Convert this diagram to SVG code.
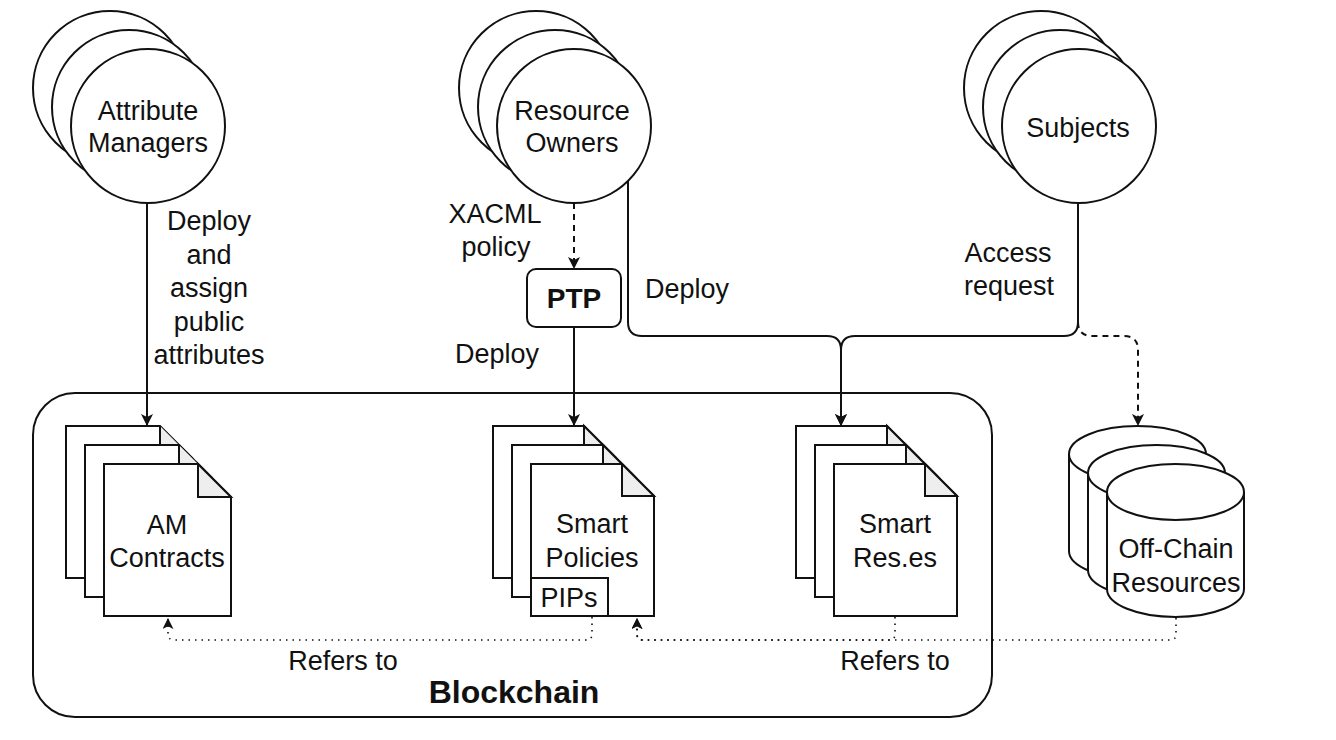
<svg xmlns="http://www.w3.org/2000/svg" width="1336" height="740" viewBox="0 0 1336 740">
<style>
  text { font-family: "Liberation Sans", Arial, sans-serif; font-size: 27px; fill: #111; text-anchor: middle; }
  .b { font-weight: bold; }
  .shape { fill: #fff; stroke: #111; stroke-width: 2; }
  .fold { fill: #eeeeee; stroke: #111; stroke-width: 2; stroke-linejoin: miter; }
  .edge { fill: none; stroke: #111; stroke-width: 2; }
  .dash { stroke-dasharray: 6 5; }
  .dot { stroke-width: 1.6; stroke-dasharray: 1.5 5; }
</style>
<defs>
  <marker id="arr" viewBox="0 0 12 12" refX="11" refY="6" markerWidth="12" markerHeight="12" markerUnits="userSpaceOnUse" orient="auto">
    <path d="M0,0 L12,6 L0,12 L3,6 Z" fill="#111"/>
  </marker>
  <marker id="arrs" viewBox="0 0 12 12" refX="11" refY="6" markerWidth="11" markerHeight="11" markerUnits="userSpaceOnUse" orient="auto">
    <path d="M0,0 L12,6 L0,12 L3,6 Z" fill="#111"/>
  </marker>
</defs>

<g id="blockchain">
  <rect class="shape" x="33" y="393" width="959" height="324" rx="42" ry="42"/>
  <text x="514" y="703" class="b" style="font-size:32px">Blockchain</text>
</g>

<g id="attribute-managers">
  <circle class="shape" cx="110" cy="88" r="77"/>
  <circle class="shape" cx="129" cy="107" r="77"/>
  <circle class="shape" cx="148" cy="126" r="77"/>
  <text x="148" y="120">Attribute</text>
  <text x="148" y="152">Managers</text>
</g>

<g id="resource-owners">
  <circle class="shape" cx="536" cy="88" r="77"/>
  <circle class="shape" cx="555" cy="107" r="77"/>
  <circle class="shape" cx="574" cy="126" r="77"/>
  <text x="572" y="120">Resource</text>
  <text x="572" y="152">Owners</text>
</g>

<g id="subjects">
  <circle class="shape" cx="1041" cy="88" r="77"/>
  <circle class="shape" cx="1060" cy="107" r="77"/>
  <circle class="shape" cx="1079" cy="126" r="77"/>
  <text x="1078" y="137">Subjects</text>
</g>

<g id="ptp">
  <rect class="shape" x="527" y="269" width="94" height="58" rx="9" ry="9"/>
  <text x="574" y="308" class="b" style="font-size:28px">PTP</text>
</g>

<g id="am-contracts">
  <path class="shape" d="M66,426 H160 L193,459 V578 H66 Z"/>
  <path class="fold" d="M160,426 V459 H193"/>
  <path class="shape" d="M85,445 H179 L212,478 V597 H85 Z"/>
  <path class="fold" d="M179,445 V478 H212"/>
  <path class="shape" d="M104,464 H198 L231,497 V616 H104 Z"/>
  <path class="fold" d="M198,464 V497 H231 Z"/>
  <text x="167" y="534">AM</text>
  <text x="167" y="567">Contracts</text>
</g>

<g id="smart-policies">
  <path class="shape" d="M493,426 H584 L616,458 V578 H493 Z"/>
  <path class="fold" d="M584,426 V458 H616 Z"/>
  <path class="shape" d="M512,445 H603 L635,477 V597 H512 Z"/>
  <path class="fold" d="M603,445 V477 H635 Z"/>
  <path class="shape" d="M531,464 H622 L654,496 V616 H531 Z"/>
  <path class="fold" d="M622,464 V496 H654 Z"/>
  <text x="592" y="533">Smart</text>
  <text x="592" y="567">Policies</text>
  <rect class="shape" x="531" y="578" width="77" height="38"/>
  <text x="569" y="607">PIPs</text>
</g>

<g id="smart-resources">
  <path class="shape" d="M796,426 H887 L919,458 V578 H796 Z"/>
  <path class="fold" d="M887,426 V458 H919 Z"/>
  <path class="shape" d="M815,445 H906 L938,477 V597 H815 Z"/>
  <path class="fold" d="M906,445 V477 H938 Z"/>
  <path class="shape" d="M834,464 H925 L957,496 V616 H834 Z"/>
  <path class="fold" d="M925,464 V496 H957 Z"/>
  <text x="895" y="533">Smart</text>
  <text x="895" y="567">Res.es</text>
</g>

<g id="off-chain-resources">
  <path class="shape" d="M1069,454 A68.5,28 0 0 1 1206,454 V551 A68.5,28 0 0 1 1069,551 Z"/>
  <path class="edge" d="M1069,454 A68.5,28 0 0 0 1206,454"/>
  <path class="shape" d="M1088,473 A68.5,28 0 0 1 1225,473 V570 A68.5,28 0 0 1 1088,570 Z"/>
  <path class="edge" d="M1088,473 A68.5,28 0 0 0 1225,473"/>
  <path class="shape" d="M1107,492 A68.5,28 0 0 1 1244,492 V589 A68.5,28 0 0 1 1107,589 Z"/>
  <path class="edge" d="M1107,492 A68.5,28 0 0 0 1244,492"/>
  <text x="1176" y="558">Off-Chain</text>
  <text x="1176" y="592">Resources</text>
</g>

<g id="connectors">
  <path class="edge" d="M147,203 V425" marker-end="url(#arr)"/>
  <path class="edge dash" d="M574,203 V268" marker-end="url(#arr)"/>
  <path class="edge" d="M574,327 V425" marker-end="url(#arr)"/>
  <path class="edge" d="M628,181 V322 Q628,336 642,336 H827 Q841,336 841,350 V425" marker-end="url(#arr)"/>
  <path class="edge dash" d="M1078,322 Q1078,336 1092,336 H1124 Q1138,336 1138,350 V425" marker-end="url(#arr)"/>
  <path class="edge" d="M1078,203 V322 Q1078,336 1064,336 H855 Q841,336 841,350 V425" marker-end="url(#arr)"/>
  <path class="edge dot" d="M592,617 V634 Q592,640 586,640 H174 Q168,640 168,634 V619" marker-end="url(#arrs)"/>
  <path class="edge dot" d="M895,617 V634 Q895,640 889,640 H643 Q637,640 637,634 V619" marker-end="url(#arrs)"/>
  <path class="edge dot" d="M1176,618 V634 Q1176,640 1170,640 H643 Q637,640 637,634 V619" marker-end="url(#arrs)"/>
</g>

<g id="labels">
  <text x="209" y="230">Deploy</text>
  <text x="209" y="264">and</text>
  <text x="209" y="297">assign</text>
  <text x="209" y="331">public</text>
  <text x="209" y="364">attributes</text>
  <text x="495" y="223">XACML</text>
  <text x="496" y="256">policy</text>
  <text x="497" y="363">Deploy</text>
  <text x="687" y="298">Deploy</text>
  <text x="1008" y="262">Access</text>
  <text x="1009" y="295">request</text>
  <text x="343" y="670">Refers to</text>
  <text x="895" y="670">Refers to</text>
</g>
</svg>
